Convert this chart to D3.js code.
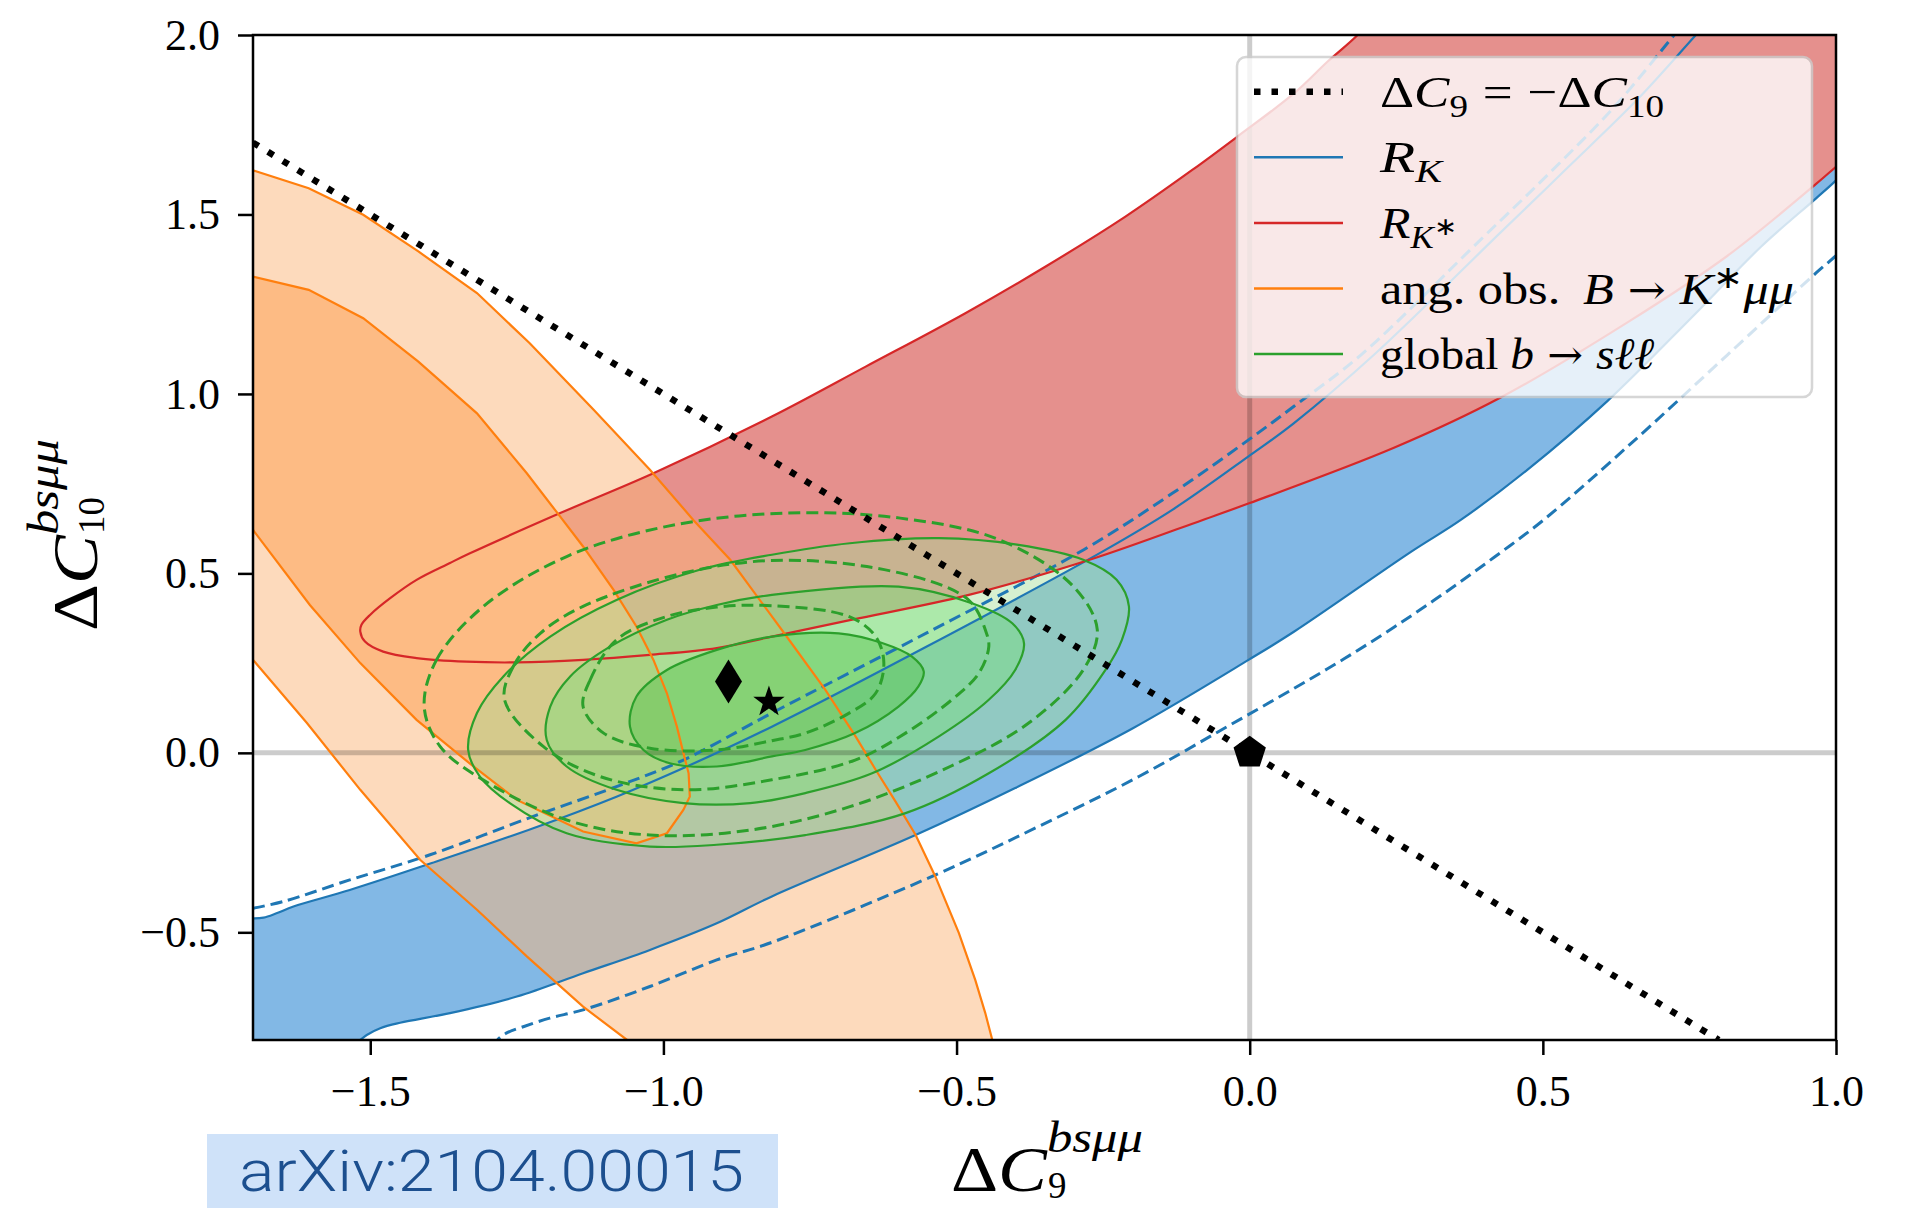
<!DOCTYPE html>
<html lang="en">
<head>
    <meta charset="UTF-8">
    <title>Index</title>
    <script src="https://d3js.org/d3.v7.min.js" charset="utf-8"></script>
    <style>
        body { margin: 0; background: #fff; }
        svg { display: block; }
        .tick text { font-family: 'Liberation Serif', serif; font-size: 44px; fill: #000; }
        .serif { font-family: 'Liberation Serif', serif; fill: #000; }
    </style>
</head>
<body>
    <div id="chart"></div>
    <script>
        // tick values and labels
        const xTicks = [-1.5, -1.0, -0.5, 0.0, 0.5, 1.0];
        const xTickLabels = ['−1.5', '−1.0', '−0.5', '0.0', '0.5', '1.0'];
        const yTicks = [-0.5, 0.0, 0.5, 1.0, 1.5, 2.0];
        const yTickLabels = ['−0.5', '0.0', '0.5', '1.0', '1.5', '2.0'];

        // R_K : 1 sigma band (solid) and 2 sigma lines (dashed), [dC9, dC10]
        const rkUpper = [[-1.70,-0.461],[-1.682,-0.459],[-1.660,-0.447],[-1.631,-0.428],[-1.535,-0.382],[-1.395,-0.307],
            [-1.222,-0.210],[-1.080,-0.122],[-0.960,-0.038],[-0.815,0.073],[-0.55,0.297],[-0.252,0.560],[-0.132,0.677],
            [-0.002,0.826],[0.075,0.918],[0.212,1.109],[0.428,1.45],[0.542,1.63],[0.661,1.82],[0.761,2.0],[0.80,2.07]];
        const rkLower = [[-1.530,-0.82],[-1.517,-0.80],[-1.506,-0.786],[-1.483,-0.767],[-1.449,-0.752],[-1.364,-0.725],
            [-1.250,-0.679],[-1.137,-0.614],[-1.023,-0.549],[-0.909,-0.475],[-0.815,-0.400],[-0.570,-0.229],[-0.40,-0.098],
            [-0.20,0.068],[-0.002,0.259],[0.076,0.338],[0.275,0.560],[0.360,0.649],[0.474,0.789],[0.610,0.98],
            [0.758,1.22],[0.872,1.41],[0.966,1.545],[1.0,1.595],[1.02,1.63]];
        const rkUpper2 = [[-1.70,-0.433],[-1.648,-0.414],[-1.535,-0.354],[-1.398,-0.284],[-1.222,-0.177],[-1.080,-0.094],
            [-0.966,-0.020],[-0.815,0.111],[-0.55,0.335],[-0.283,0.566],[-0.132,0.723],[-0.002,0.872],[0.075,0.965],
            [0.190,1.109],[0.394,1.43],[0.508,1.61],[0.622,1.80],[0.724,2.0],[0.76,2.07]];
        const rkLower2 = [[-1.290,-0.82],[-1.283,-0.80],[-1.268,-0.781],[-1.239,-0.763],[-1.194,-0.739],[-1.137,-0.716],
            [-1.023,-0.651],[-0.909,-0.577],[-0.815,-0.528],[-0.536,-0.340],[-0.360,-0.205],[-0.189,-0.066],
            [-0.047,0.065],[0.076,0.180],[0.161,0.262],[0.246,0.350],[0.332,0.445],[0.417,0.545],[0.502,0.650],
            [0.645,0.854],[0.815,1.109],[0.966,1.337],[1.0,1.385],[1.02,1.415]];

        // R_K* : band, both edges start at the left tip
        const rksUpper = [[-1.517,0.338],[-1.515,0.357],[-1.500,0.385],[-1.466,0.431],[-1.421,0.482],[-1.364,0.529],
            [-1.330,0.556],[-1.176,0.668],[-1.017,0.779],[-0.815,0.937],[-0.655,1.076],[-0.485,1.225],[-0.348,1.355],
            [-0.212,1.494],[-0.098,1.624],[-0.021,1.717],[0.076,1.838],[0.133,1.926],[0.184,2.0],[0.21,2.05]];
        const rksLower = [[-1.517,0.338],[-1.509,0.310],[-1.478,0.282],[-1.421,0.264],[-1.336,0.254],[-1.250,0.252],
            [-1.137,0.259],[-1.023,0.273],[-0.909,0.292],[-0.815,0.324],[-0.678,0.371],[-0.479,0.440],[-0.269,0.540],
            [-0.08,0.649],[0.0,0.696],[0.246,0.850],[0.428,0.99],[0.645,1.20],[0.815,1.385],[0.966,1.585],[1.0,1.633],[1.02,1.66]];

        // angular observables B -> K* mu mu
        const angOuterRight = [[-1.70,1.623],[-1.605,1.573],[-1.512,1.499],[-1.418,1.397],[-1.318,1.281],[-1.228,1.141],
            [-1.119,0.956],[-1.023,0.789],[-0.949,0.649],[-0.886,0.538],[-0.815,0.380],[-0.792,0.329],[-0.724,0.176],
            [-0.672,0.045],[-0.638,-0.047],[-0.604,-0.136],[-0.570,-0.228],[-0.536,-0.345],[-0.496,-0.502],
            [-0.468,-0.633],[-0.451,-0.725],[-0.439,-0.80]];
        const angOuterLeft = [[-1.70,0.259],[-1.608,0.083],[-1.517,-0.103],[-1.415,-0.298],[-1.318,-0.437],
            [-1.233,-0.567],[-1.137,-0.707],[-1.062,-0.80]];
        const angInner = [[-1.70,1.327],[-1.605,1.290],[-1.512,1.211],[-1.418,1.090],[-1.318,0.946],[-1.233,0.779],
            [-1.176,0.658],[-1.137,0.575],[-1.085,0.454],[-1.046,0.352],[-1.017,0.259],[-0.994,0.166],[-0.977,0.073],
            [-0.966,0.0],[-0.957,-0.057],[-0.955,-0.122],[-0.966,-0.159],[-0.994,-0.224],[-1.046,-0.252],
            [-1.137,-0.219],[-1.250,-0.131],[-1.324,-0.038],[-1.421,0.092],[-1.517,0.250],[-1.603,0.412],[-1.70,0.621]];

        // global b -> s l l fit, solid and dashed contours
        const globalSolid1 = [[-1.057,0.073],[-1.046,0.157],[-0.994,0.231],[-0.909,0.287],[-0.815,0.324],[-0.701,0.333],
            [-0.627,0.306],[-0.576,0.268],[-0.556,0.227],[-0.565,0.185],[-0.599,0.129],[-0.673,0.055],[-0.758,0.008],
            [-0.815,-0.010],[-0.909,-0.038],[-0.989,-0.029],[-1.034,0.008]];
        const globalSolid2 = [[-1.199,0.036],[-1.193,0.129],[-1.159,0.213],[-1.091,0.296],[-0.994,0.371],[-0.909,0.412],
            [-0.815,0.440],[-0.599,0.463],[-0.474,0.417],[-0.405,0.361],[-0.385,0.306],[-0.400,0.231],[-0.445,0.148],
            [-0.530,0.046],[-0.644,-0.057],[-0.758,-0.112],[-0.852,-0.140],[-0.966,-0.140],[-1.080,-0.103],[-1.165,-0.038]];
        const globalSolid3 = [[-1.333,0.008],[-1.318,0.111],[-1.273,0.213],[-1.193,0.324],[-1.080,0.426],[-0.938,0.510],
            [-0.815,0.552],[-0.682,0.584],[-0.530,0.598],[-0.397,0.580],[-0.284,0.538],[-0.227,0.482],[-0.206,0.408],
            [-0.218,0.315],[-0.246,0.231],[-0.314,0.092],[-0.445,-0.057],[-0.587,-0.168],[-0.758,-0.229],
            [-0.909,-0.256],[-1.023,-0.261],[-1.165,-0.224],[-1.262,-0.140],[-1.313,-0.066]];
        const globalDashed1 = [[-1.137,0.129],[-1.125,0.203],[-1.080,0.315],[-0.994,0.380],[-0.909,0.406],[-0.815,0.410],
            [-0.684,0.380],[-0.638,0.324],[-0.624,0.250],[-0.638,0.166],[-0.684,0.110],[-0.758,0.055],[-0.815,0.034],
            [-0.909,0.008],[-1.023,0.013],[-1.102,0.055]];
        const globalDashed2 = [[-1.271,0.148],[-1.256,0.241],[-1.210,0.333],[-1.137,0.408],[-0.966,0.501],[-0.815,0.536],
            [-0.653,0.519],[-0.519,0.463],[-0.474,0.417],[-0.451,0.343],[-0.445,0.296],[-0.462,0.222],[-0.508,0.148],
            [-0.587,0.055],[-0.673,-0.020],[-0.815,-0.075],[-0.966,-0.103],[-1.108,-0.066],[-1.205,0.018]];
        const globalDashed3 = [[-1.408,0.129],[-1.387,0.259],[-1.307,0.408],[-1.165,0.547],[-0.994,0.631],[-0.795,0.668],
            [-0.596,0.654],[-0.426,0.593],[-0.301,0.464],[-0.260,0.343],[-0.284,0.231],[-0.377,0.083],[-0.511,-0.038],
            [-0.682,-0.150],[-0.852,-0.215],[-1.023,-0.229],[-1.165,-0.187],[-1.307,-0.076],[-1.381,0.018]];

        // reference line dC9 = -dC10 and markers
        const c9EqMinusC10 = [[-1.7, 1.7], [0.8, -0.8]];
        const smPoint = [0.0, 0.0];
        const diamondPoint = [-0.889, 0.199];
        const starPoint = [-0.820, 0.142];

        const legendLabels = ['dotted', 'RK', 'RKs', 'ang', 'global'];

        // canvas
        const W = 1905, H = 1208;
        const svg = d3.select('#chart').append('svg').attr('width', W).attr('height', H);
        svg.append('rect').attr('width', W).attr('height', H).attr('fill', '#fff');

        const x = d3.scaleLinear().domain([-1.7, 1.0]).range([253, 1836]);
        const y = d3.scaleLinear().domain([-0.8, 2.0]).range([1040, 35]);

        svg.append('clipPath').attr('id', 'plotClip').append('rect')
            .attr('x', x(-1.7)).attr('y', y(2.0))
            .attr('width', x(1.0) - x(-1.7)).attr('height', y(-0.8) - y(2.0));

        const smooth = d3.line().x(d => x(d[0])).y(d => y(d[1])).curve(d3.curveCatmullRom.alpha(0.5));
        const straight = d3.line().x(d => x(d[0])).y(d => y(d[1]));
        const closedSmooth = d3.line().x(d => x(d[0])).y(d => y(d[1])).curve(d3.curveCatmullRomClosed.alpha(0.5));

        // glue several path pieces into one closed region
        function region(parts) {
            return parts.map(([gen, pts], i) => {
                const s = gen(pts).replace(/Z$/, '');
                return i ? 'L' + s.slice(1) : s;
            }).join('') + 'Z';
        }

        const g = svg.append('g').attr('clip-path', 'url(#plotClip)');

        // fills
        g.append('path').attr('fill', '#82b8e5')
            .attr('d', region([[smooth, rkUpper], [straight, [[1.1, 2.1]]], [smooth, rkLower.slice().reverse()], [straight, [[-1.8, -0.9]]]]));
        g.append('path').attr('fill', '#e5908d')
            .attr('d', region([[smooth, rksUpper.slice().reverse().concat(rksLower.slice(1))], [straight, [[1.1, 2.1]]]]));
        g.append('path').attr('fill', '#fbb579').attr('fill-opacity', 0.5)
            .attr('d', region([[straight, [[-1.8, 1.623]].concat(angOuterRight)], [straight, angOuterLeft.slice().reverse().concat([[-1.8, 0.259]])]]));
        g.append('path').attr('fill', '#fdbb84')
            .attr('d', straight([[-1.8, 1.327]].concat(angInner, [[-1.8, 0.621]])) + 'Z');

        // stacked green levels
        [[globalSolid3, '#a4de97'], [globalSolid2, '#79e07c'], [globalSolid1, '#58c34d']].forEach(([c, col]) => {
            g.append('path').attr('fill', col).attr('fill-opacity', 0.45).attr('d', closedSmooth(c));
        });

        // zero lines
        g.append('line').attr('x1', x(0)).attr('x2', x(0)).attr('y1', y(-0.8)).attr('y2', y(2.0))
            .attr('stroke', '#000').attr('stroke-opacity', 0.2).attr('stroke-width', 5);
        g.append('line').attr('x1', x(-1.7)).attr('x2', x(1.0)).attr('y1', y(0)).attr('y2', y(0))
            .attr('stroke', '#000').attr('stroke-opacity', 0.2).attr('stroke-width', 5);

        // contour lines
        const lineStyle = (sel, color, dashed) => sel.attr('fill', 'none').attr('stroke', color)
            .attr('stroke-width', dashed ? 3 : 2.2).attr('stroke-dasharray', dashed ? '12 6' : null);

        lineStyle(g.append('path').attr('d', smooth(rkUpper)), '#1f77b4', false);
        lineStyle(g.append('path').attr('d', smooth(rkLower)), '#1f77b4', false);
        lineStyle(g.append('path').attr('d', smooth(rkUpper2)), '#1f77b4', true);
        lineStyle(g.append('path').attr('d', smooth(rkLower2)), '#1f77b4', true);
        lineStyle(g.append('path').attr('d', smooth(rksUpper.slice().reverse().concat(rksLower.slice(1)))), '#d62728', false);
        lineStyle(g.append('path').attr('d', straight(angOuterRight)), '#ff7f0e', false);
        lineStyle(g.append('path').attr('d', straight(angOuterLeft)), '#ff7f0e', false);
        lineStyle(g.append('path').attr('d', straight(angInner)), '#ff7f0e', false);
        [globalSolid1, globalSolid2, globalSolid3].forEach(c => lineStyle(g.append('path').attr('d', closedSmooth(c)), '#2ca02c', false));
        [globalDashed1, globalDashed2, globalDashed3].forEach(c => lineStyle(g.append('path').attr('d', closedSmooth(c)), '#2ca02c', true));

        // dC9 = -dC10
        g.append('path').attr('d', straight(c9EqMinusC10)).attr('fill', 'none').attr('stroke', '#000')
            .attr('stroke-width', 6.5).attr('stroke-dasharray', '6.5 11');

        // markers
        function polygonPath(n, r, rot) {
            return d3.range(n).map(i => {
                const a = rot + i * 2 * Math.PI / n;
                return [r * Math.sin(a), -r * Math.cos(a)];
            });
        }
        const pent = polygonPath(5, 17, 0);
        g.append('path').attr('transform', `translate(${x(smPoint[0])},${y(smPoint[1])})`)
            .attr('d', 'M' + pent.join('L') + 'Z').attr('fill', '#000');
        g.append('path').attr('transform', `translate(${x(diamondPoint[0])},${y(diamondPoint[1])})`)
            .attr('d', 'M0,-22L13.5,0L0,22L-13.5,0Z').attr('fill', '#000');
        const starPts = d3.range(10).map(i => {
            const r = i % 2 ? 6.5 : 16.5, a = i * Math.PI / 5;
            return [r * Math.sin(a), -r * Math.cos(a)];
        });
        g.append('path').attr('transform', `translate(${x(starPoint[0])},${y(starPoint[1])})`)
            .attr('d', 'M' + starPts.join('L') + 'Z').attr('fill', '#000');

        // axes
        const xAxis = svg.append('g').attr('transform', `translate(0,${y(-0.8)})`)
            .call(d3.axisBottom(x).tickValues(xTicks).tickFormat((d, i) => xTickLabels[i])
                .tickSize(15).tickPadding(20).tickSizeOuter(0));
        const yAxis = svg.append('g').attr('transform', `translate(${x(-1.7)},0)`)
            .call(d3.axisLeft(y).tickValues(yTicks).tickFormat((d, i) => yTickLabels[i])
                .tickSize(15).tickPadding(18).tickSizeOuter(0));
        [xAxis, yAxis].forEach(a => {
            a.select('.domain').remove();
            a.selectAll('.tick line').attr('stroke', '#000').attr('stroke-width', 2.5);
        });
        svg.append('rect').attr('x', x(-1.7)).attr('y', y(2.0))
            .attr('width', x(1.0) - x(-1.7)).attr('height', y(-0.8) - y(2.0))
            .attr('fill', 'none').attr('stroke', '#000').attr('stroke-width', 2.5);

        // text with sub / superscripts: segments {t, it, shift, size, dx, arrow}
        function richText(parent, segs, fontSize, len) {
            const t = parent.append('text').attr('class', 'serif').attr('font-size', fontSize);
            let cur = 0;
            segs.forEach(s => {
                const shift = (s.shift || 0) * fontSize;
                const ts = t.append('tspan').text(s.t)
                    .attr('dy', shift - cur)
                    .attr('dx', (s.dx || 0) * fontSize)
                    .attr('font-style', s.it ? 'italic' : 'normal')
                    .attr('font-size', (s.size || 1) * fontSize);
                if (s.arrow) ts.attr('font-family', "'DejaVu Serif', serif");
                cur = shift;
            });
            if (len) t.attr('textLength', len).attr('lengthAdjust', 'spacingAndGlyphs');
            return t;
        }

        // legend
        const lg = svg.append('g');
        lg.append('rect').attr('x', 1237).attr('y', 57).attr('width', 575).attr('height', 340).attr('rx', 9)
            .attr('fill', '#fff').attr('stroke', '#cccccc').attr('stroke-width', 2.5).attr('opacity', 0.8);
        const legendRows = {
            dotted: { color: '#000', dotted: true, len: 284,
                segs: [{ t: 'Δ' }, { t: 'C', it: 1 }, { t: '9', shift: 0.22, size: 0.7 }, { t: '=', dx: 0.28 }, { t: '−Δ', dx: 0.28 }, { t: 'C', it: 1 }, { t: '10', shift: 0.22, size: 0.7 }] },
            RK: { color: '#1f77b4', len: 62, segs: [{ t: 'R', it: 1 }, { t: 'K', it: 1, shift: 0.22, size: 0.7 }] },
            RKs: { color: '#d62728', len: 77, segs: [{ t: 'R', it: 1 }, { t: 'K', it: 1, shift: 0.22, size: 0.7 }, { t: '∗', shift: -0.06, size: 0.55 }] },
            ang: { color: '#ff7f0e', len: 414,
                segs: [{ t: 'ang. obs.' }, { t: 'B', it: 1, dx: 0.45 }, { t: '→', arrow: 1, dx: 0.28, size: 0.9 }, { t: 'K', it: 1, dx: 0.28 }, { t: '∗', shift: -0.35, size: 0.7 }, { t: 'μμ', it: 1 }] },
            global: { color: '#2ca02c', len: 274,
                segs: [{ t: 'global ' }, { t: 'b', it: 1 }, { t: '→', arrow: 1, dx: 0.28, size: 0.9 }, { t: 'sℓℓ', it: 1, dx: 0.28 }] }
        };
        legendLabels.forEach((key, i) => {
            const row = legendRows[key];
            const cy = 91.7 + i * 65.6;
            lg.append('line').attr('x1', 1254).attr('x2', 1343).attr('y1', cy).attr('y2', cy)
                .attr('stroke', row.color).attr('stroke-width', row.dotted ? 6.5 : 2.5)
                .attr('stroke-dasharray', row.dotted ? '6.5 11' : null);
            richText(lg.append('g').attr('transform', `translate(1380,${cy + 15})`), row.segs, 45, row.len);
        });

        // axis labels
        function axisLabel(tr, sub) {
            const grp = svg.append('g').attr('transform', tr);
            richText(grp, [{ t: 'Δ' }, { t: 'C', it: 1 }], 64, 96);
            grp.append('text').attr('class', 'serif').attr('x', 96).attr('y', -39)
                .attr('font-size', 44).attr('font-style', 'italic').text('bsμμ')
                .attr('textLength', 96).attr('lengthAdjust', 'spacingAndGlyphs');
            grp.append('text').attr('class', 'serif').attr('x', 97).attr('y', 7)
                .attr('font-size', 37).text(sub);
        }
        axisLabel('translate(951,1191)', '9');
        axisLabel('translate(97,631) rotate(-90)', '10');

        // arXiv tag
        svg.append('rect').attr('x', 207).attr('y', 1134).attr('width', 571).attr('height', 90).attr('fill', '#cfe2f9');
        svg.append('text').attr('x', 239).attr('y', 1191).attr('font-family', 'Roboto, sans-serif').attr('font-weight', 300)
            .attr('font-size', 58).attr('fill', '#1c4f8f').attr('textLength', 505).attr('lengthAdjust', 'spacingAndGlyphs')
            .text('arXiv:2104.00015');
    </script>
</body>
</html>
